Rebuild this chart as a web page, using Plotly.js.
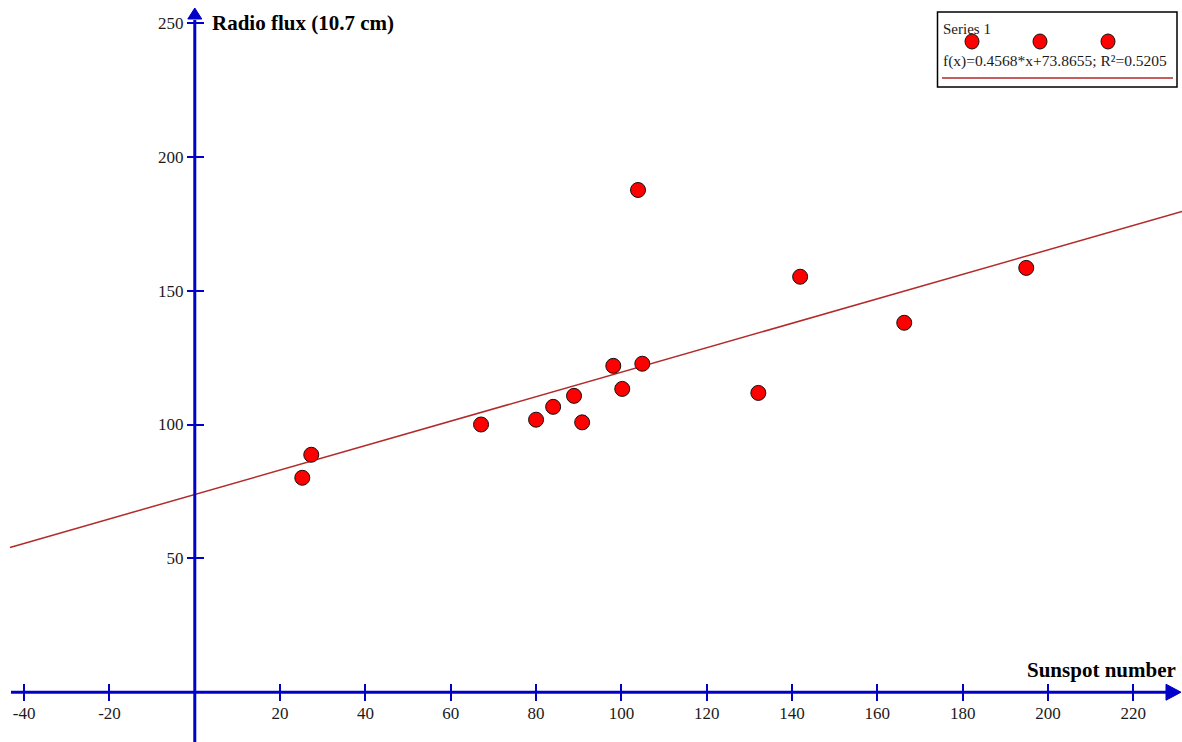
<!DOCTYPE html>
<html><head><meta charset="utf-8">
<script src="https://cdn.plot.ly/plotly-3.0.1.min.js"></script>
<style>html,body{margin:0;padding:0;background:#fff}#chart{width:1182px;height:742px}</style>
</head><body><div id="chart"></div>
<script>
// ---- data ----
const sunspots  = [25.2, 27.3, 67.1, 80.0, 84.0, 88.9, 90.8, 98.1, 100.2, 103.9, 104.9, 132.1, 141.9, 166.3, 194.9];
const radioFlux = [80.1, 88.7, 100.0, 101.8, 106.6, 110.7, 100.8, 121.9, 113.3, 187.6, 122.7, 111.8, 155.2, 138.0, 158.5];
const trendSlope = 0.4568;
const trendIntercept = 73.8655;
const rSquared = 0.5205;
const xTickVals = [-40, -20, 20, 40, 60, 80, 100, 120, 140, 160, 180, 200, 220];
const xTickText = ['-40', '-20', '20', '40', '60', '80', '100', '120', '140', '160', '180', '200', '220'];
const yTickVals = [50, 100, 150, 200, 250];
const yTickText = ['50', '100', '150', '200', '250'];
const seriesName = 'Series 1';
const xTitle = 'Sunspot number';
const yTitle = 'Radio flux (10.7 cm)';

// ---- layout helpers ----
const W = 1182, H = 742;
const xr = [-45.66, 231.41], yr = [-18.60, 258.57];
const fx = v => (v - xr[0]) / (xr[1] - xr[0]);
const fy = v => (v - yr[0]) / (yr[1] - yr[0]);
const px = p => p / W;
const py = p => 1 - p / H;
const toPxX = v => fx(v) * W;
const toPxY = v => (1 - fy(v)) * H;
const BLUE = '#0000c8';
const SERIF = '"Liberation Serif","Times New Roman",serif';

const ax0 = toPxX(0), ay0 = toPxY(0);
const lineStartX = xr[0] + (10 / W) * (xr[1] - xr[0]);
const trendX = [lineStartX, xr[1]];
const trendY = trendX.map(x => trendSlope * x + trendIntercept);

const traces = [
  {x: trendX, y: trendY, mode: 'lines', line: {color: '#b22a2a', width: 1.5}, hoverinfo: 'skip', showlegend: false},
  {x: sunspots, y: radioFlux, mode: 'markers', name: seriesName,
   marker: {symbol: 'circle', size: 15, color: '#ff0000', line: {color: '#111', width: 1}}, showlegend: false},
  {x: [null], y: [null], xaxis: 'x2', yaxis: 'y2', showlegend: false, hoverinfo: 'skip'}
];

const tickFont = {family: SERIF, size: 17, color: '#1a1a1a'};
const baseX = {range: xr, showgrid: false, zeroline: false, showline: false, tickmode: 'array',
  tickvals: xTickVals, ticktext: xTickText,
  ticklen: 8, tickwidth: 2, tickcolor: BLUE, anchor: 'free', position: fy(0), fixedrange: true};
const baseY = {range: yr, showgrid: false, zeroline: false, showline: false, tickmode: 'array',
  tickvals: yTickVals, ticktext: yTickText,
  ticklen: 8, tickwidth: 2, tickcolor: BLUE, anchor: 'free', position: fx(0), fixedrange: true};

const legendMarkerPx = [972, 1040, 1108];
const shapes = [
  {type: 'line', xref: 'paper', yref: 'y', x0: px(11), x1: px(1168), y0: 0, y1: 0, line: {color: BLUE, width: 3}},
  {type: 'path', xref: 'paper', yref: 'paper',
   path: `M${px(1166)},${py(ay0 - 8)} L${px(1181)},${py(ay0)} L${px(1166)},${py(ay0 + 8)} Z`,
   fillcolor: BLUE, line: {color: BLUE, width: 1}},
  {type: 'line', xref: 'x', yref: 'paper', x0: 0, x1: 0, y0: 0, y1: py(20), line: {color: BLUE, width: 3}},
  {type: 'path', xref: 'paper', yref: 'paper',
   path: `M${px(ax0 - 7)},${py(19)} L${px(ax0)},${py(8)} L${px(ax0 + 7)},${py(19)} Z`,
   fillcolor: BLUE, line: {color: BLUE, width: 1}},
  {type: 'rect', xref: 'paper', yref: 'paper', x0: px(937.5), x1: px(1177), y0: py(87), y1: py(12),
   line: {color: '#000', width: 1.5}, fillcolor: 'rgba(255,255,255,0)'},
  {type: 'line', xref: 'paper', yref: 'paper', x0: px(942), x1: px(1173), y0: py(78), y1: py(78),
   line: {color: '#b22a2a', width: 1.5}}
];
legendMarkerPx.forEach(cx => shapes.push({type: 'circle', xref: 'paper', yref: 'paper',
  x0: px(cx - 7), x1: px(cx + 7), y0: py(49), y1: py(34), fillcolor: '#ff0000', line: {color: '#111', width: 1}}));

const annotations = [
  {xref: 'paper', yref: 'paper', x: px(210), y: py(23), xanchor: 'left', yanchor: 'middle', showarrow: false,
   text: '<b>' + yTitle + '</b>', font: {family: SERIF, size: 21, color: '#000'}},
  {xref: 'paper', yref: 'paper', x: px(1178), y: py(670), xanchor: 'right', yanchor: 'middle', showarrow: false,
   text: '<b>' + xTitle + '</b>', font: {family: SERIF, size: 21, color: '#000'}},
  {xref: 'paper', yref: 'paper', x: px(941), y: py(29), xanchor: 'left', yanchor: 'middle', showarrow: false,
   text: seriesName, font: {family: SERIF, size: 15, color: '#1a1a1a'}},
  {xref: 'paper', yref: 'paper', x: px(941), y: py(61), xanchor: 'left', yanchor: 'middle', showarrow: false,
   text: 'f(x)=' + trendSlope + '*x+' + trendIntercept + '; R²=' + rSquared, font: {family: SERIF, size: 15.5, color: '#1a1a1a'}}
];

const layout = {
  width: W, height: H, margin: {l: 0, r: 0, t: 0, b: 0}, paper_bgcolor: '#fff', plot_bgcolor: '#fff',
  showlegend: false,
  xaxis: Object.assign({}, baseX, {ticks: 'outside', tickfont: tickFont, ticklabelstandoff: -3}),
  xaxis2: Object.assign({}, baseX, {ticks: 'inside', showticklabels: false, overlaying: 'x'}),
  yaxis: Object.assign({}, baseY, {ticks: 'outside', tickfont: tickFont}),
  yaxis2: Object.assign({}, baseY, {ticks: 'inside', showticklabels: false, overlaying: 'y', side: 'left'}),
  shapes: shapes, annotations: annotations
};
Plotly.newPlot('chart', traces, layout, {staticPlot: true, displayModeBar: false});
</script></body></html>
